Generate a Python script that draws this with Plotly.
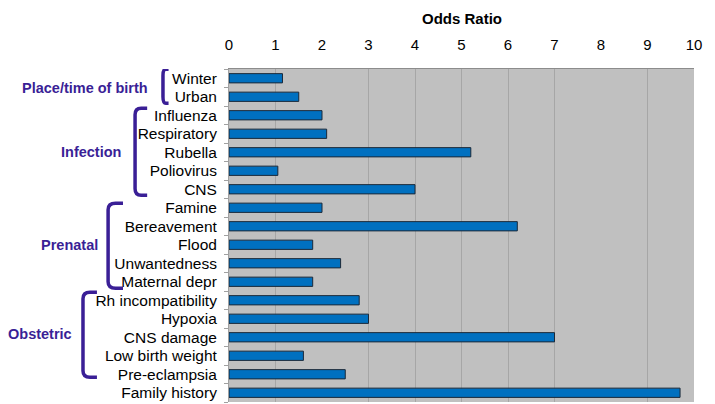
import plotly.graph_objects as go

categories = ["Winter", "Urban", "Influenza", "Respiratory", "Rubella", "Poliovirus", "CNS",
              "Famine", "Bereavement", "Flood", "Unwantedness", "Maternal depr",
              "Rh incompatibility", "Hypoxia", "CNS damage", "Low birth weight", "Pre-eclampsia",
              "Family history"]
odds_ratio = [1.15, 1.5, 2.0, 2.1, 5.2, 1.05, 4.0,
              2.0, 6.2, 1.8, 2.4, 1.8,
              2.8, 3.0, 7.0, 1.6, 2.5,
              9.7]
x_ticks = list(range(0, 11))
grid_vals = [1, 3, 4, 5, 6, 7, 9, 10]

groups = ["Place/time of birth", "Infection", "Prenatal", "Obstetric"]
group_label_pos = [0.5, 4.0, 9.0, 13.8]
group_label_x = [-0.170, -0.228, -0.277, -0.333]
group_spans = [(-0.49, 1.35), (1.62, 6.32), (6.76, 11.35), (11.57, 16.16)]
bracket_x = [-0.142, -0.202, -0.260, -0.314]
bracket_hook = [-0.130, -0.176, -0.228, -0.284]

idx = list(range(len(categories)))
purple = "#3a1f96"
FONT = "Liberation Sans, Arial"

fig = go.Figure(go.Bar(
    x=odds_ratio, y=idx, orientation="h",
    marker=dict(color="#0070c0", line=dict(color="#1a2838", width=1)),
    width=0.5,
))

shapes = []
for (top, bot), bx, hx in zip(group_spans, bracket_x, bracket_hook):
    r = 0.35
    rx = (hx - bx) * 0.5
    path = (f"M {hx},{top} L {bx+rx},{top} Q {bx},{top} {bx},{top+r} "
            f"L {bx},{bot-r} Q {bx},{bot} {bx+rx},{bot} L {hx},{bot}")
    shapes.append(dict(type="path", path=path, xref="paper", yref="y",
                       line=dict(color=purple, width=3.5)))

annotations = []
for g, yp, xp in zip(groups, group_label_pos, group_label_x):
    annotations.append(dict(text=f"<b>{g}</b>", x=xp, y=yp, xref="paper", yref="y",
                            xanchor="right", yanchor="middle", showarrow=False,
                            font=dict(family=FONT, size=14.5, color=purple)))
annotations.append(dict(text="<b>Odds Ratio</b>", x=0.5, y=1.153, xref="paper", yref="paper",
                        xanchor="center", yanchor="middle", showarrow=False,
                        font=dict(family=FONT, size=15, color="#000")))

fig.update_layout(
    width=707, height=396,
    margin=dict(l=221, r=21, t=61, b=2),
    paper_bgcolor="white", plot_bgcolor="#c0c0c0",
    showlegend=False,
    shapes=shapes, annotations=annotations,
    font=dict(family=FONT, size=15, color="#000"),
    xaxis=dict(side="top", range=[0, 10], tickvals=x_ticks, ticktext=[str(v) for v in x_ticks],
               showgrid=False, zeroline=False,
               showline=True, linecolor="#8c8c8c", linewidth=1, mirror=False,
               ticks="", ticklabelstandoff=12, tickfont=dict(size=15), fixedrange=True,
               minor=dict(tickvals=grid_vals, showgrid=True, gridcolor="#a6a6a6",
                          gridwidth=1, ticks="")),
    yaxis=dict(range=[17.5, -0.5], tickvals=idx, ticktext=categories,
               showgrid=False, zeroline=False, showline=True, linecolor="#a0a0a0", linewidth=1,
               ticks="", ticklabelstandoff=8, tickfont=dict(size=15.5),
               minor=dict(tickvals=[i - 0.5 for i in range(19)], ticks="outside", ticklen=4,
                          tickcolor="#a0a0a0", showgrid=False)),
)

fig.write_html("out.html")
